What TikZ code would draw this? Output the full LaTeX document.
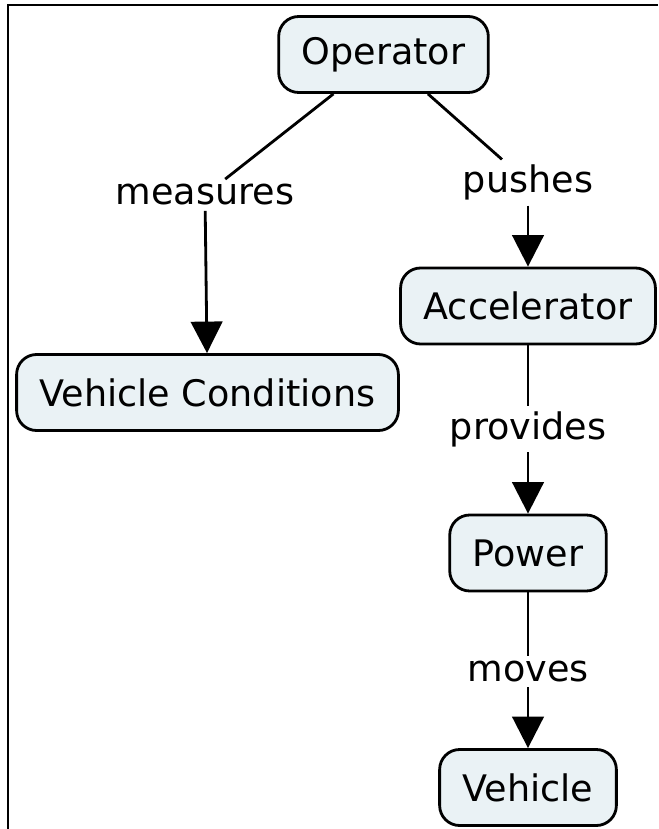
\documentclass[tikz,border=0pt]{standalone}
\usepackage{fontspec}
\setmainfont{DejaVu Sans}
\usetikzlibrary{arrows.meta}
\definecolor{conceptfill}{RGB}{234,242,245}
\begin{document}
\begin{tikzpicture}[line width=1.6pt,
    >={Triangle[width=0.63cm,length=0.63cm]},
    concept/.style={draw=black,fill=conceptfill,rounded corners=0.4cm,
        minimum height=1.52cm,inner xsep=0.46cm,
        font=\fontsize{20.8}{25}\selectfont},
    linkword/.style={inner sep=0.08cm,font=\fontsize{20.8}{25}\selectfont}]
    \useasboundingbox (0,0) rectangle (13.16,-16.58);
    \draw[line width=1.1pt] (0.16,-16.58) |- (13.16,-0.1);

    \node[concept] at (7.67,-1.09) (op) {Operator};

    \node[linkword] at (4.10,-3.90) (meas) {measures};
    \node[linkword] at (10.56,-3.65) (push) {pushes};

    \node[concept] at (4.15,-7.85) (vc) {Vehicle Conditions};
    \node[concept] at (10.56,-6.12) (acc) {Accelerator};

    \node[linkword] at (10.56,-8.58) (prov) {provides};
    \node[concept] at (10.56,-11.06) (pow) {Power};

    \node[linkword] at (10.56,-13.43) (mov) {moves};
    \node[concept] at (10.56,-15.75) (veh) {Vehicle};

	\path[-] (op) edge (meas);
	\path[->] (meas) edge (vc);

	\path[-] (op) edge (push);
	\path[->] (push) edge (acc);

	\path[-] (acc) edge (prov);
	\path[->] (prov) edge (pow);

	\path[-] (pow) edge (mov);
	\path[->] (mov) edge (veh);
\end{tikzpicture}
\end{document}
